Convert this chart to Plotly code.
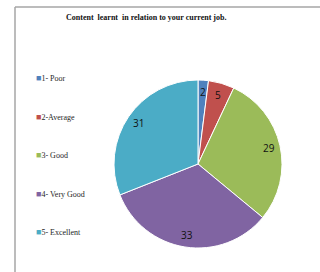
import math
import plotly.graph_objects as go

categories = ["1- Poor", "2-Average", "3- Good", "4- Very Good", "5- Excellent"]
values = [2, 5, 29, 33, 31]
colors = ["#4F81BD", "#C0504D", "#9BBB59", "#8064A2", "#4BACC6"]
title = "Content  learnt  in relation to your current job."

W, H = 320, 272
cx, cy, R = 198, 164, 84  # pie centre / radius in pixels

fig = go.Figure(go.Pie(
    labels=categories, values=values, sort=False, direction="clockwise",
    rotation=0, marker=dict(colors=colors, line=dict(color="white", width=1)),
    textinfo="none", hoverinfo="label+value", showlegend=False,
    domain=dict(x=[(cx - R) / W, (cx + R) / W], y=[1 - (cy + R) / H, 1 - (cy - R) / H]),
))

ann = []
total = sum(values)
cum = 0
for v in values:
    mid = (cum + v / 2) / total * 2 * math.pi
    cum += v
    px = cx + 0.86 * R * math.sin(mid)
    py = cy - 0.86 * R * math.cos(mid)
    ann.append(dict(x=px / W, y=1 - py / H, xref="paper", yref="paper", text=str(v),
                    xanchor="center", yanchor="middle", showarrow=False,
                    font=dict(family="Open Sans, Liberation Sans", size=10, color="#111")))

for i, (c, col) in enumerate(zip(categories, colors)):
    y = 78 + i * 38.6
    ann.append(dict(x=34 / W, y=1 - y / H, xref="paper", yref="paper", xanchor="left", yanchor="middle",
                    text=f'<span style="color:{col};font-size:9px">■</span><span style="color:#262626">{c}</span>',
                    showarrow=False,
                    font=dict(family="Liberation Serif, Times New Roman, serif", size=8, color="#262626")))

ann.append(dict(x=146 / W, y=1 - 17 / H, xref="paper", yref="paper", text=f"<b>{title}</b>",
                xanchor="center", yanchor="middle", showarrow=False,
                font=dict(family="Liberation Serif, Times New Roman, serif", size=8, color="#111")))

fig.update_layout(
    width=W, height=H, margin=dict(l=0, r=0, t=0, b=0),
    paper_bgcolor="white", plot_bgcolor="white", annotations=ann,
    shapes=[
        dict(type="line", xref="paper", yref="paper", x0=15 / W, x1=15 / W, y0=0, y1=1 - 7 / H,
             line=dict(color="#a6a6a6", width=1.5)),
        dict(type="line", xref="paper", yref="paper", x0=15 / W, x1=1, y0=1 - 7 / H, y1=1 - 7 / H,
             line=dict(color="#a6a6a6", width=1.5)),
    ],
)
fig.write_html("out.html", config={"displayModeBar": False},
               post_script="document.body.style.margin='0';document.body.style.overflow='hidden';")
